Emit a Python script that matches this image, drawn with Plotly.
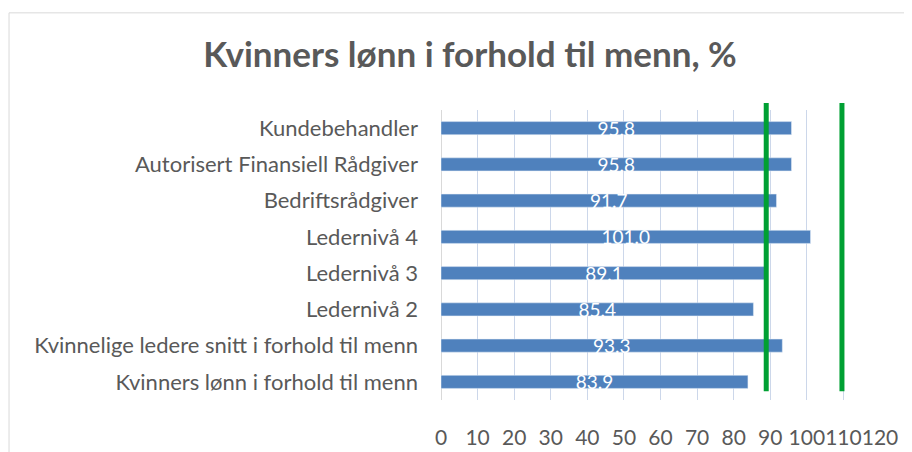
import plotly.graph_objects as go

categories = [
    "Kundebehandler",
    "Autorisert Finansiell Rådgiver",
    "Bedriftsrådgiver",
    "Ledernivå 4",
    "Ledernivå 3",
    "Ledernivå 2",
    "Kvinnelige ledere snitt i forhold til menn",
    "Kvinners lønn i forhold til menn",
]
values = [95.8, 95.8, 91.7, 101.0, 89.1, 85.4, 93.3, 83.9]
reference_lines = [88.9, 109.6]
tick_values = list(range(0, 130, 10))

FONT = "Lato"
GREY = "#595959"

fig = go.Figure(go.Bar(
    x=values,
    y=categories,
    orientation="h",
    width=0.36,
    marker=dict(color="#4F81BD"),
    text=[f"{v:.1f}" for v in values],
    textposition="inside",
    insidetextanchor="middle",
    constraintext="none",
    textfont=dict(color="white", size=19, family=FONT),
    hoverinfo="x+y",
))

# chart border (page body adds 8px offset)
fig.add_shape(type="rect", xref="paper", yref="paper",
              x0=-0.984, x1=1.2, y0=-0.4, y1=1.335,
              line=dict(color="#D9D9D9", width=1), layer="below")

for ref in reference_lines:
    fig.add_shape(type="line", xref="x", yref="paper", x0=ref, x1=ref,
                  y0=0.03, y1=1.024, line=dict(color="#00A033", width=5))

fig.update_layout(
    width=912, height=452,
    margin=dict(l=433, r=40, t=102, b=60),
    paper_bgcolor="white", plot_bgcolor="white",
    showlegend=False,
    title=dict(text="<b>Kvinners lønn i forhold til menn, %</b>",
               x=0.5066, xanchor="center", y=0.896, yanchor="middle",
               font=dict(family=FONT, size=35, color=GREY)),
    font=dict(family=FONT, color=GREY, size=22),
    xaxis=dict(range=[0, 120], tickvals=tick_values, showgrid=True,
               gridcolor="#CCD7EA", gridwidth=1, zeroline=True,
               zerolinecolor="#D9D9D9", zerolinewidth=1,
               tickfont=dict(size=21, color=GREY), ticks="",
               tickangle=0, automargin=False, ticklabelstandoff=23),
    yaxis=dict(autorange="reversed", showgrid=False, ticks="",
               automargin=False,
               tickfont=dict(size=22, color=GREY), ticklabelstandoff=22),
)

fig.write_html("out.html")
